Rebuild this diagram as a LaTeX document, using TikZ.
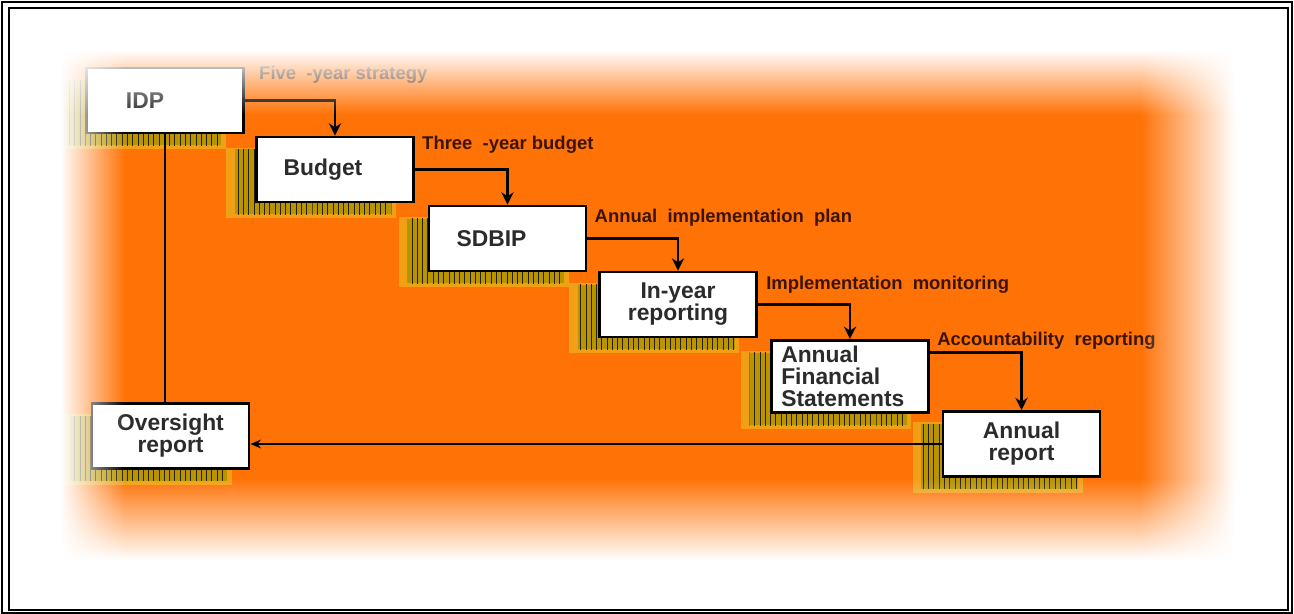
\documentclass[tikz,border=0pt]{standalone}
\usepackage{fontspec}
\setmainfont{Liberation Sans}
\usepackage{tikz}
\usetikzlibrary{arrows.meta, positioning, shadows, patterns, fadings}
\definecolor{bgorange}{HTML}{FF7206}
\definecolor{shadowgold}{HTML}{B89400}
\definecolor{shadowglow}{HTML}{E8C020}
\definecolor{shadowdark}{HTML}{2A1E00}
\definecolor{notebrown}{HTML}{3A1400}
\definecolor{stagetext}{HTML}{2B2B2B}
\tikzset{
    stage/.style={rectangle, minimum width=3.14cm, minimum height=1.3cm, text centered, align=center, draw=black, line width=1.6pt, fill=white, text=stagetext, font=\fontsize{13}{12.5}\selectfont\bfseries,
        general shadow={shadow xshift=-0.44cm, shadow yshift=-0.25cm, shadow scale=1.08, fill=shadowglow, opacity=0.6, draw=none},
        general shadow={shadow xshift=-0.44cm, shadow yshift=-0.25cm, fill=shadowgold, draw=none},
        general shadow={shadow xshift=-0.44cm, shadow yshift=-0.25cm, pattern=vertical lines, pattern color=shadowdark, draw=none}},
    note/.style={font=\fontsize{10.5}{12}\selectfont\bfseries, text=notebrown, inner sep=0pt},
    arrow/.style={line width=1.6pt, -{Stealth[length=7pt, width=7pt]}},
    feedback/.style={line width=1pt, -{Stealth[length=6pt, width=5pt]}}
}

\begin{document}
\begin{tikzpicture}[x=0.02cm, y=-0.02cm]
    \useasboundingbox (0,0) rectangle (1294,614);
    \fill[white] (0,0) rectangle (1294,614);
    \fill[bgorange] (45,40) rectangle (1245,575);

    \node (idp) [stage] at (165,100.5) {IDP\hspace*{0.8cm}};
    \node (budget) [stage] at (335,169.5) {Budget\hspace*{0.48cm}};
    \node (sdbip) [stage] at (507.5,238.5) {SDBIP\hspace*{0.64cm}};
    \node (inyear) [stage] at (678,304.5) {In-year\\reporting};
    \node (afs) [stage, text width=2.75cm, align=left] at (850,376.5) {Annual\\Financial\\Statements};
    \node (annual) [stage] at (1021.5,444) {Annual\\report};
    \node (oversight) [stage] at (170.5,436) {Oversight\\report};

    \node (five) [note, right=0.28cm of idp.north east, yshift=-0.16cm] {Five~~-year strategy};
    \node (three) [note, right=0.14cm of budget.north east, yshift=-0.18cm] {Three~~-year budget};
    \node (plan) [note, right=0.14cm of sdbip.north east, yshift=-0.26cm] {Annual~ implementation~ plan};
    \node (monitor) [note, right=0.16cm of inyear.north east, yshift=-0.28cm] {Implementation~ monitoring};
    \node (account) [note, right=0.14cm of afs.north east, yshift=-0.04cm] {Accountability~ reporting};

    \draw [arrow] (idp.east) -| (budget.north);
    \draw [arrow] (budget.east) -| (sdbip.north);
    \draw [arrow] (sdbip.east) -| (inyear.north);
    \draw [arrow] (inyear.east) -| (afs.north);
    \draw [arrow] ([yshift=-0.28cm]afs.north east) -| (annual.north);
    \draw [feedback] (annual.west) -- (annual.west -| oversight.east);
    \draw [line width=1.6pt] (idp.south) -- (idp.south |- oversight.north);

    % soft white edges
    \fill[white] (30,30) rectangle (60,590);
    \fill[white, path fading=east] (60,30) rectangle (125,590);
    \fill[white] (30,30) rectangle (1255,50);
    \fill[white, path fading=south] (30,50) rectangle (1255,115);
    \fill[white, path fading=west] (1140,30) rectangle (1235,590);
    \fill[white] (1235,30) rectangle (1255,590);
    \fill[white, path fading=north] (30,478) rectangle (1255,560);
    \fill[white] (30,560) rectangle (1255,590);

    \draw[line width=1pt] (2,2) rectangle (1292,613);
    \draw[line width=1.2pt] (9,8) rectangle (1288,610);
\end{tikzpicture}
\end{document}
